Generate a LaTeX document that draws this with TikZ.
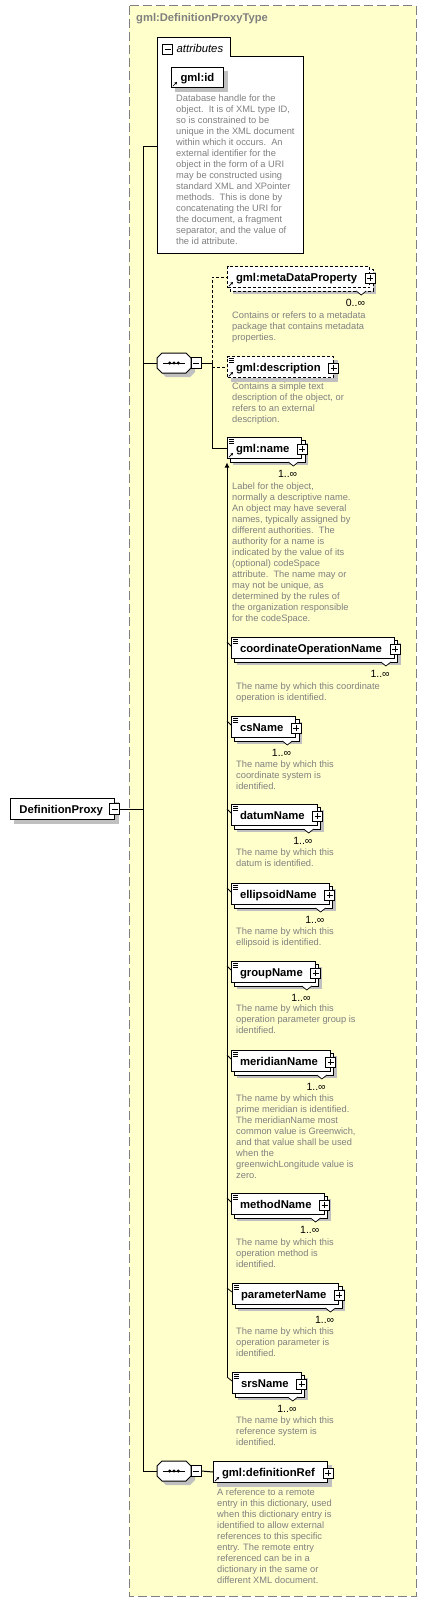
\documentclass[tikz,border=0pt]{standalone}
\usepackage{fontspec}
\setmainfont{Liberation Sans}
\usetikzlibrary{calc,arrows.meta}
\pgfdeclarelayer{yellow}
\pgfdeclarelayer{under}
\pgfsetlayers{yellow,under,main}
\definecolor{bgyellow}{RGB}{255,255,204}
\definecolor{framegray}{RGB}{128,128,128}
\definecolor{descgray}{RGB}{128,128,128}
\definecolor{shadowgray}{RGB}{192,192,192}
\tikzset{
  conn/.style={line width=1pt, draw=black},
  elembox/.style={draw=black, line width=1pt, fill=white, anchor=north west, inner xsep=0pt, inner ysep=0pt,
    minimum height=21pt, text height=9pt, text depth=1pt, font=\bfseries\fontsize{11.3}{13}\selectfont},
  backbox/.style={draw=black, line width=1pt, fill=white},
  plusbox/.style={draw=black, line width=0.8pt, fill=white, minimum size=10pt, inner sep=0pt,
    path picture={\draw[line width=0.8pt] ([xshift=2pt]path picture bounding box.west) -- ([xshift=-2pt]path picture bounding box.east)
      ([yshift=-2pt]path picture bounding box.north) -- ([yshift=2pt]path picture bounding box.south);}},
  minusbox/.style={draw=black, line width=0.8pt, fill=white, minimum width=10pt, minimum height=11pt, inner sep=0pt,
    path picture={\draw[line width=0.8pt] ([xshift=2pt]path picture bounding box.west) -- ([xshift=-2pt]path picture bounding box.east);}},
  notch/.style={draw=black, line width=0.7pt, fill=white},
  mult/.style={anchor=east, inner sep=0pt, font=\fontsize{10.5}{12}\selectfont, text=black},
  desc/.style={anchor=north west, inner sep=0pt, align=left, text=descgray, font=\fontsize{9.3}{11}\selectfont},
  icon/.style={draw=black, line width=0.7pt},
  seqnode/.style={minimum width=34pt, minimum height=20pt, inner sep=0pt, draw=none},
  titlestyle/.style={anchor=west, inner sep=0pt, text=framegray, font=\bfseries\fontsize{11.2}{13}\selectfont},
  seqshape/.pic={
    \fill[shadowgray] (-8,-6) -- (16,-6) -- (21,-1) -- (21,9) -- (16,14) -- (-8,14) -- (-13,9) -- (-13,-1) -- cycle;
    \draw[line width=1pt, fill=white] (-12,-10) -- (12,-10) -- (17,-5) -- (17,5) -- (12,10) -- (-12,10) -- (-17,5) -- (-17,-5) -- cycle;
    \draw[line width=1pt] (-11,0) -- (11,0);
    \fill (-4.3,0) circle (1.7pt) (0,0) circle (1.7pt) (4.3,0) circle (1.7pt);
  }
}
\newcommand\multelem[6]{%
  \node[elembox,#5] (#1) at (#2,#3) {\hspace*{8.5pt}#4\hspace*{12.5pt}};
  \begin{pgfonlayer}{under}
    \fill[shadowgray] ($(#1.north west)+(6,6)$) rectangle ($(#1.south east)+(6,6)$);
    \draw[backbox,#5] ($(#1.north west)+(3,3)$) rectangle ($(#1.south east)+(3,3)$);
  \end{pgfonlayer}
  \node[plusbox] (#1-plus) at ($(#1.east)+(0,1)$) {};
  \draw[notch] ($(#1.south east)+(-14,3)$) -- ($(#1.south east)+(-9,7)$) -- ($(#1.south east)+(-4,3)$);
  \node[mult] (#1-mult) at ($(#1.south east)+(-5,14.5)$) {#6};
}
\newcommand\singleelem[5]{%
  \node[elembox,#5] (#1) at (#2,#3) {\hspace*{8.5pt}#4\hspace*{12.5pt}};
  \begin{pgfonlayer}{under}
    \fill[shadowgray] ($(#1.north west)+(4,4)$) rectangle ($(#1.south east)+(4,4)$);
  \end{pgfonlayer}
  \node[plusbox] (#1-plus) at ($(#1.east)+(0,1)$) {};
}
\newcommand\eqicon[1]{\draw[icon] ($(#1.north west)+(2,2.3)$) -- +(5,0) ($(#1.north west)+(2,4.1)$) -- +(5,0) ($(#1.north west)+(2,5.9)$) -- +(5,0);}
\newcommand\refarrow[1]{\draw[icon,-{Latex[length=2.8pt,width=2.8pt]}] ($(#1.south west)+(1.8,-1.8)$) -- +(4.5,-4.5);}
\newcommand\subtick[1]{\path ($(#1.north west)+(0,5)$) coordinate (#1-t); \draw[line width=0.8pt] (subTop |- #1-t) -- ($(#1.north west)+(0,9)$);}
\begin{document}
\begin{tikzpicture}[x=1pt,y=-1pt]
\useasboundingbox (0,0) rectangle (427,1603);
\begin{pgfonlayer}{yellow}
  \draw[fill=bgyellow, draw=framegray, line width=1pt, dash pattern=on 9pt off 4pt] (129,6) rectangle (416,1596);
\end{pgfonlayer}
\node[titlestyle] (title) at (136,19) {gml:DefinitionProxyType};

% attributes
\begin{pgfonlayer}{under}
  \draw[line width=1pt, fill=white] (157,253) -- (157,38) -- (230,38) -- (230,57) -- (303,57) -- (303,253) -- cycle;
\end{pgfonlayer}
\node[inner sep=0pt, minimum width=146pt, minimum height=215pt, anchor=north west] (attrs) at (157,38) {};
\node[minusbox, minimum height=10pt] (attrminus) at (167.5,49) {};
\node[anchor=west, inner sep=0pt, font=\itshape\fontsize{11.3}{13}\selectfont] (attrlbl) at (176.5,48) {attributes};
\node[elembox, minimum height=20pt] (gmlid) at (171,67) {\hspace*{9pt}gml:id\hspace*{9pt}};
\begin{pgfonlayer}{under}
  \fill[shadowgray] ($(gmlid.north west)+(4,4)$) rectangle ($(gmlid.south east)+(4,4)$);
\end{pgfonlayer}
\refarrow{gmlid}
\node[desc] (gmlid-d) at (176,94.3) {Database handle for the\\object.\ \ It is of XML type ID,\\so is constrained to be\\unique in the XML document\\within which it occurs.\ \ An\\external identifier for the\\object in the form of a URI\\may be constructed using\\standard XML and XPointer\\methods.\ \ This is done by\\concatenating the URI for\\the document, a fragment\\separator, and the value of\\the id attribute.};

% root element
\node[elembox] (dp) at (10,798) {\hspace*{9pt}DefinitionProxy\hspace*{11pt}};
\begin{pgfonlayer}{under}
  \fill[shadowgray] ($(dp.north west)+(4,4)$) rectangle ($(dp.south east)+(4,4)$);
\end{pgfonlayer}
\node[minusbox] (dp-minus) at (dp.east) {};

% sequences
\node[seqnode] (seqA) at (174,363) {};
\pic at (seqA.center) {seqshape};
\node[minusbox] (seqA-minus) at (196,363) {};
\node[seqnode] (seqB) at (174,1471) {};
\pic at (seqB.center) {seqshape};
\node[minusbox] (seqB-minus) at (196,1471) {};

% elements of first sequence
\multelem{mdp}{227}{266}{gml:metaDataProperty}{dash pattern=on 3pt off 2pt}{0..∞}
\refarrow{mdp}
\node[desc] (mdp-d) at (232,311.3) {Contains or refers to a metadata\\package that contains metadata\\properties.};

\singleelem{descr}{227}{356}{gml:description}{dash pattern=on 3pt off 2pt}
\eqicon{descr}\refarrow{descr}
\node[desc] (descr-d) at (232,383) {Contains a simple text\\description of the object, or\\refers to an external\\description.};

\multelem{name}{227}{437}{gml:name}{}{1..∞}
\eqicon{name}\refarrow{name}
\node[desc] (name-d) at (232,482.6) {Label for the object,\\normally a descriptive name.\\An object may have several\\names, typically assigned by\\different authorities.\ \ The\\authority for a name is\\indicated by the value of its\\(optional) codeSpace\\attribute.\ \ The name may or\\may not be unique, as\\determined by the rules of\\the organization responsible\\for the codeSpace.};

% substitution group members
\multelem{coordop}{231}{637}{coordinateOperationName}{}{1..∞}
\eqicon{coordop}
\node[desc] (coordop-d) at (236,682.3) {The name by which this coordinate\\operation is identified.};

\multelem{cs}{231}{716}{csName}{}{1..∞}
\eqicon{cs}
\node[desc] (cs-d) at (236,760.6) {The name by which this\\coordinate system is\\identified.};

\multelem{datum}{231}{804}{datumName}{}{1..∞}
\eqicon{datum}
\node[desc] (datum-d) at (236,848.6) {The name by which this\\datum is identified.};

\multelem{ellipsoid}{231}{883}{ellipsoidName}{}{1..∞}
\eqicon{ellipsoid}
\node[desc] (ellipsoid-d) at (236,927.3) {The name by which this\\ellipsoid is identified.};

\multelem{group}{231}{961}{groupName}{}{1..∞}
\eqicon{group}
\node[desc] (group-d) at (236,1004.9) {The name by which this\\operation parameter group is\\identified.};

\multelem{meridian}{231}{1050}{meridianName}{}{1..∞}
\eqicon{meridian}
\node[desc] (meridian-d) at (236,1094.3) {The name by which this\\prime meridian is identified.\\The meridianName most\\common value is Greenwich,\\and that value shall be used\\when the\\greenwichLongitude value is\\zero.};

\multelem{method}{231}{1193}{methodName}{}{1..∞}
\eqicon{method}
\node[desc] (method-d) at (236,1238.3) {The name by which this\\operation method is\\identified.};

\multelem{param}{232}{1283}{parameterName}{}{1..∞}
\eqicon{param}
\node[desc] (param-d) at (236,1327.3) {The name by which this\\operation parameter is\\identified.};

\multelem{srs}{232}{1372}{srsName}{}{1..∞}
\eqicon{srs}
\node[desc] (srs-d) at (236,1416.3) {The name by which this\\reference system is\\identified.};

% second sequence element
\singleelem{defref}{213}{1461}{gml:definitionRef}{}
\refarrow{defref}
\node[desc] (defref-d) at (217,1488.3) {A reference to a remote\\entry in this dictionary, used\\when this dictionary entry is\\identified to allow external\\references to this specific\\entry. The remote entry\\referenced can be in a\\dictionary in the same or\\different XML document.};

% connectors
\coordinate (trunkTop) at (143,146);
\coordinate (trunkBot) at (143,1471);
\draw[conn] (trunkTop) -- (trunkBot);
\draw[conn] (dp-minus.east) -- (dp-minus.east -| trunkTop);
\draw[conn] (trunkTop) -- (trunkTop -| attrs.west);
\draw[conn] (seqA.west -| trunkTop) -- (seqA.west);
\draw[conn] (trunkBot) -- (seqB.west);
\coordinate (jA) at (212,363);
\draw[conn] (seqA-minus.east) -- (jA);
\draw[conn, dash pattern=on 3pt off 2pt] (jA) -- (jA |- mdp.west) -- (mdp.west);
\draw[conn, dash pattern=on 3pt off 2pt] (jA |- descr.west) -- (descr.west);
\draw[conn] (jA) -- (jA |- name.west) -- (name.west);
\draw[conn] (seqB-minus.east) -- (defref.west);

\coordinate (subTop) at ($(name.south west)+(0,3.5)$);
\subtick{coordop}\subtick{cs}\subtick{datum}\subtick{ellipsoid}\subtick{group}
\subtick{meridian}\subtick{method}\subtick{param}\subtick{srs}
\draw[conn,-{Latex[length=5pt,width=5pt]}] (subTop |- srs-t) -- (subTop);
\end{tikzpicture}
\end{document}
